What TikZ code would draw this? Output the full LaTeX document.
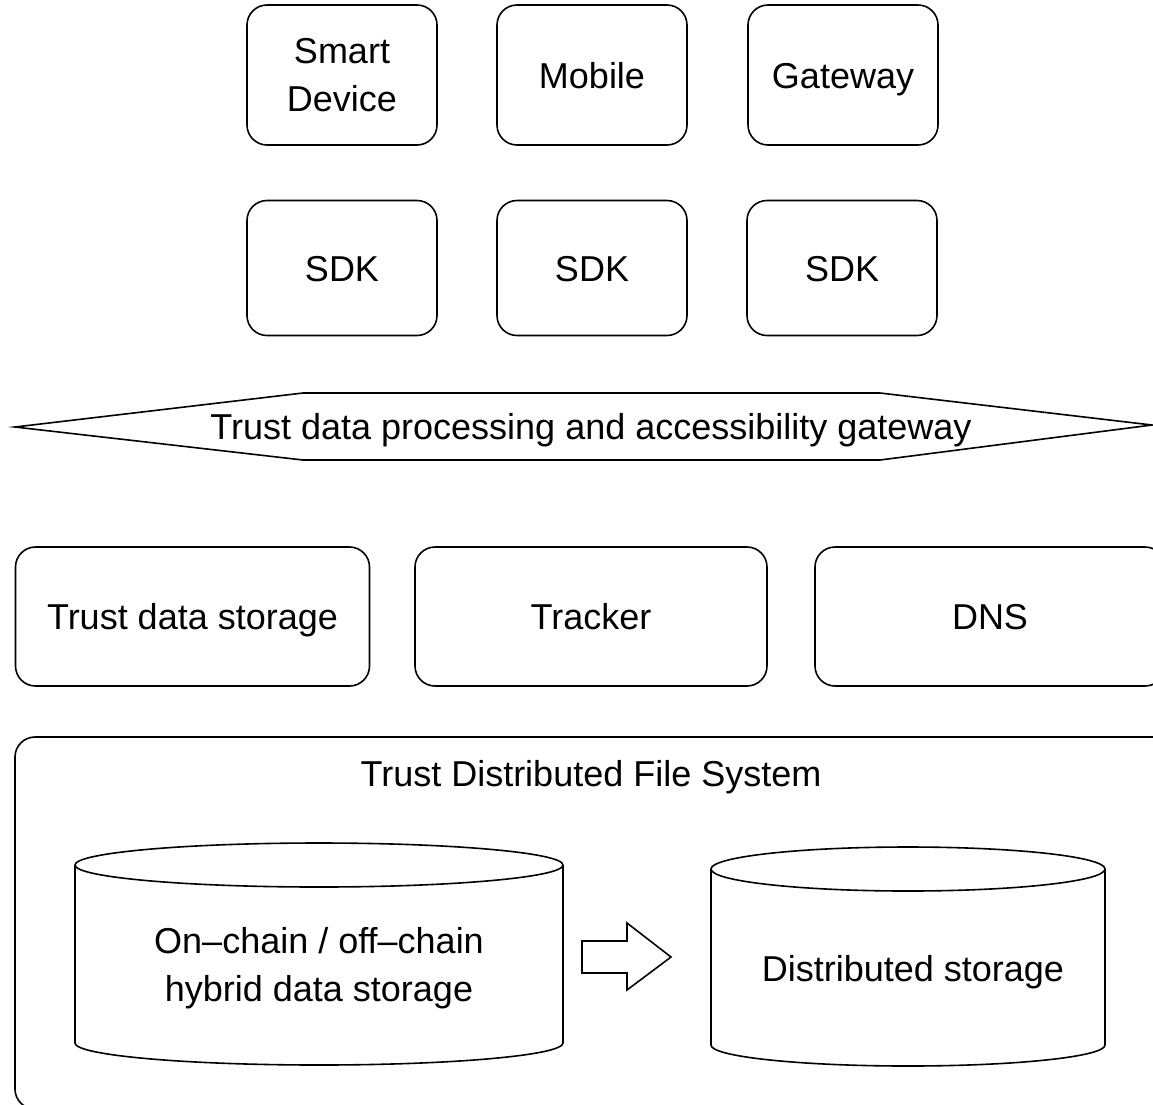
\documentclass[tikz,border=0pt]{standalone}
\usepackage{fontspec}
\setmainfont{Liberation Sans}
\begin{document}
\begin{tikzpicture}
  [x=1pt,y=-1pt,line width=1.6pt,every node/.style={align=center,inner
sep=0pt,font=\fontsize{36}{48}\selectfont},
  one/.style={text height=26pt,text depth=0pt},
  box/.style={draw,one,rounded corners=20pt,minimum width=190pt,minimum height=140pt},
  wbox/.style={draw,one,rounded corners=20pt,minimum width=354pt,minimum height=139pt}]
  \useasboundingbox (0,0) rectangle (1153,1104);
  \node[box,text height=,text depth=] (dev) at (342,75) {Smart\\Device};
  \node[box] (mob) at (592,75) {Mobile};
  \node[box] (gw) at (843,75) {Gateway};
  \node[box,minimum height=135pt] (sdk1) at (342,268) {SDK};
  \node[box,minimum height=135pt] (sdk2) at (592,268) {SDK};
  \node[box,minimum height=135pt] (sdk3) at (842,268) {SDK};
  \node[one] (gate) at (591,426) {Trust data processing and accessibility gateway};
  \node[wbox] (tds) at (192.5,616.5) {Trust data storage};
  \node[wbox,minimum width=352pt] (trk) at (591,616.5) {Tracker};
  \node[wbox,minimum width=350pt] (dns) at (990,616.5) {DNS};
  \node[draw,rounded corners=20pt,minimum width=1165pt,minimum height=372pt] (fs) at (597.5,923) {};
  \node[one] (fst) at (591,773) {Trust Distributed File System};
  \node (hyb) at (319,968) {On--chain / off--chain\\hybrid data storage};
  \node[one] (dst) at (913,968) {Distributed storage};

  \coordinate (g0) at (15,427);
  \coordinate (g1) at (303,393);
  \coordinate (g2) at (880,393);
  \coordinate (g3) at (1152,425);
  \coordinate (g4) at (880,460);
  \coordinate (g5) at (303,460);

  \draw (g0) -- (g1) -- (g2) -- (g3) -- (g4) -- (g5) -- cycle;
  \draw (75,865) -- (75,1043) arc[start angle=180,end angle=0,x radius=244,y radius=22] -- (563,865);
  \draw (319,865) ellipse[x radius=244,y radius=22];
  \draw (711,869) -- (711,1045) arc[start angle=180,end angle=0,x radius=197,y radius=21] -- (1105,869);
  \draw (908,869) ellipse[x radius=197,y radius=22];
  \draw[line join=miter] (582,941) -- (627,941) -- (627,923) -- (671,957) -- (627,990) -- (627,973) -- (582,973) -- cycle;

\end{tikzpicture}
\end{document}
